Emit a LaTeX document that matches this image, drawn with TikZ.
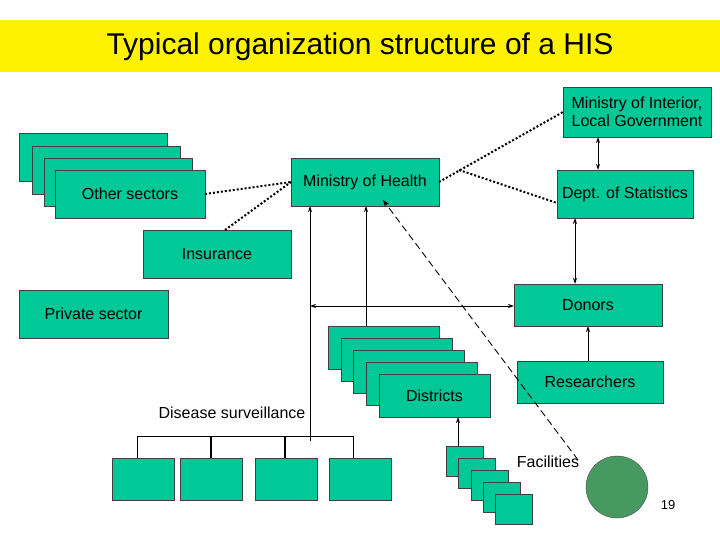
\documentclass[tikz,border=0pt]{standalone}
\usepackage{fontspec}
\setmainfont{Liberation Sans}
\usetikzlibrary{arrows.meta}
\definecolor{boxg}{RGB}{0,200,150}
\definecolor{circg}{RGB}{70,153,96}
\tikzset{
 box/.style={draw=black!75,fill=boxg,line width=0.8pt,anchor=north west,inner sep=0pt,outer sep=0pt,font=\fontsize{16}{18}\selectfont,align=center},
 lbl/.style={font=\fontsize{16}{18}\selectfont,inner sep=0pt},
 arr/.style={-{Stealth[length=6pt,width=4pt]},line width=0.9pt},
 darr/.style={{Stealth[length=6pt,width=4pt]}-{Stealth[length=6pt,width=4pt]},line width=0.9pt},
 dot/.style={dotted,line width=2pt},
}
\begin{document}
\begin{tikzpicture}[x=1pt,y=-1pt]
\useasboundingbox (0,0) rectangle (720,540);
\fill[white] (0,0) rectangle (720,540);
\fill[yellow] (0,20) rectangle (720,72);
\node[font=\fontsize{30}{34}\selectfont] (title) at (360,47) {Typical organization structure of a HIS};
\node[box,minimum width=148pt,minimum height=48pt] (os1) at (19,133) {};
\node[box,minimum width=148pt,minimum height=48pt] (os2) at (32,146) {};
\node[box,minimum width=148pt,minimum height=48pt] (os3) at (44,158) {};
\node[box,minimum width=150pt,minimum height=48pt] (os) at (55,170) {Other sectors};
\node[box,minimum width=148pt,minimum height=48pt] (moh) at (291,158) {Ministry of Health};
\node[box,minimum width=148pt,minimum height=48pt] (ins) at (143,230) {Insurance};
\node[box,minimum width=149pt,minimum height=48pt] (priv) at (19,290) {Private sector};
\node[box,minimum width=148pt,minimum height=50pt] (moi) at (563,87) {Ministry of Interior,\\Local Government};
\node[box,minimum width=136pt,minimum height=48pt] (stat) at (557,170) {Dept. of Statistics};
\node[box,minimum width=148pt,minimum height=42pt] (don) at (514,284) {Donors};
\node[box,minimum width=146pt,minimum height=42pt] (res) at (517,361) {Researchers};
\node[box,minimum width=111pt,minimum height=43pt] (d1) at (328,326) {};
\node[box,minimum width=111pt,minimum height=43pt] (d2) at (341,338) {};
\node[box,minimum width=111pt,minimum height=43pt] (d3) at (353,350) {};
\node[box,minimum width=111pt,minimum height=43pt] (d4) at (366,362) {};
\node[box,minimum width=111pt,minimum height=43pt] (dist) at (379,374) {Districts};
\node[lbl] (ds) at (232,413) {Disease surveillance};
\node[box,minimum width=62pt,minimum height=42pt] (s1) at (112,458) {};
\node[box,minimum width=62pt,minimum height=42pt] (s2) at (180,458) {};
\node[box,minimum width=62pt,minimum height=42pt] (s3) at (255,458) {};
\node[box,minimum width=62pt,minimum height=42pt] (s4) at (329,458) {};
\node[box,minimum width=37pt,minimum height=30pt] (f1) at (446,446) {};
\node[box,minimum width=37pt,minimum height=30pt] (f2) at (458,458) {};
\node[box,minimum width=37pt,minimum height=30pt] (f3) at (471,470) {};
\node[box,minimum width=37pt,minimum height=30pt] (f4) at (483,482) {};
\node[box,minimum width=37pt,minimum height=30pt] (f5) at (495,494) {};
\node[lbl] (fac) at (548,462) {Facilities};
\node[circle,draw=black!70,fill=circg,minimum size=62pt,inner sep=0pt] (circ) at (617,487) {};
\node[font=\fontsize{13}{15}\selectfont] (num) at (668,505) {19};
\coordinate (b1) at (137,436);
\coordinate (b2) at (211,436);
\coordinate (b3) at (285,436);
\coordinate (b4) at (353,436);
\draw[line width=0.9pt] (137,458) -- (b1) -- (b4) -- (353,458);
\draw[line width=1.6pt] (b2) -- (211,458);
\draw[line width=1.6pt] (b3) -- (285,458);
\coordinate (vb) at (310,441);
\draw[arr] (vb) -- (310,206);
\draw[darr] (310,306) -- (514,306);
\draw[arr] (366,326) -- (366,206);
\draw[arr] (458,446) -- (458,417);
\draw[darr] (598,137) -- (598,170);
\draw[darr] (575,218) -- (575,284);
\draw[arr] (588,361) -- (588,326);
\draw[line width=0.9pt,dash pattern=on 7pt off 4pt,-{Stealth[length=7pt,width=5pt]}] (578,460) -- (383,200);
\draw[dot] (os.east) -- (moh.west);
\draw[dot] (225,230) -- (moh.west);
\draw[dot] (moh.east) -- (moi.west);
\draw[dot] (459,170) -- (557,203);
\end{tikzpicture}
\end{document}
